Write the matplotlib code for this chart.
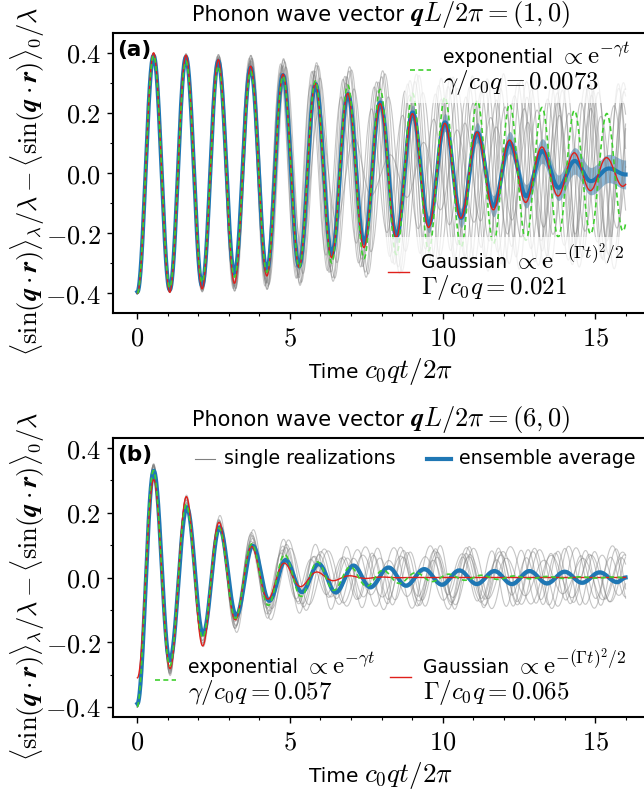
import numpy as np
import matplotlib
matplotlib.use("Agg")
import matplotlib.pyplot as plt
from matplotlib.ticker import MultipleLocator, FuncFormatter
from matplotlib.lines import Line2D
from matplotlib.offsetbox import (TextArea, HPacker, VPacker, DrawingArea,
                                  AnchoredOffsetbox, AnnotationBbox)

plt.rcParams["font.family"] = ["DejaVu Sans"]
plt.rcParams["mathtext.fontset"] = "cm"

azul = "#1f77b4"
rojo = "#e0201b"
verde = "#3fcf2f"
gris = "#808080"

fs_txt, fs_mat = 13.5, 18      # legend text / legend math
fs_tit, fs_tit_mat = 15, 19    # title and axis label
fs_tick, fs_ylab = 19, 19

# -----------------------------
# Data
# -----------------------------
# panel (a): extrema of the ensemble average
t_avg_a = [0.0, 0.53, 1.06, 1.59, 2.12, 2.65, 3.18, 3.71, 4.24, 4.77, 5.30,
           5.84, 6.37, 6.90, 7.43, 7.96, 8.49, 9.02, 9.55, 10.08, 10.61,
           11.14, 11.67, 12.20, 12.74, 13.27, 13.80, 14.33, 14.86, 15.45, 16.0]
y_avg_a = [-0.395, 0.39, -0.388, 0.385, -0.375, 0.372, -0.335, 0.35, -0.325,
           0.325, -0.31, 0.295, -0.271, 0.262, -0.232, 0.234, -0.21, 0.201,
           -0.171, 0.168, -0.149, 0.134, -0.11, 0.101, -0.077, 0.073, -0.049,
           0.04, -0.027, 0.015, -0.005]
# half width of the shaded band at t = 0, 1, ..., 16
band_a = [0.0, 0.002, 0.004, 0.006, 0.008, 0.01, 0.013, 0.016, 0.02, 0.025,
          0.03, 0.033, 0.036, 0.04, 0.043, 0.046, 0.048]

# panel (b): extrema of the ensemble average
t_avg_b = [0.0, 0.534, 1.06, 1.62, 2.15, 2.69, 3.24, 3.78, 4.32, 4.86, 5.39,
           5.94, 6.50, 7.08, 7.63, 8.23, 8.80, 9.40, 9.98, 10.55, 11.12,
           11.70, 12.27, 12.85, 13.42, 14.00, 14.57, 15.15, 15.72, 16.0]
y_avg_b = [-0.39, 0.33, -0.257, 0.217, -0.175, 0.155, -0.118, 0.098, -0.072,
           0.054, -0.045, 0.042, -0.046, 0.037, -0.030, 0.031, -0.025, 0.026,
           -0.022, 0.022, -0.02, 0.02, -0.02, 0.02, -0.018, 0.018, -0.016,
           0.016, -0.014, 0.0]
band_b = [0.0, 0.002, 0.003, 0.004, 0.005, 0.005, 0.006, 0.006, 0.006, 0.006,
          0.006, 0.006, 0.006, 0.006, 0.006, 0.006, 0.006]

# fit parameters (from the legends)
periodo_a = 1.061
periodo_b = 1.075
gamma_a, Gamma_a = 0.0073, 0.021
gamma_b, Gamma_b = 0.057, 0.065
amp_exp_a, amp_gau_a = 0.40, 0.40
amp_exp_b, amp_gau_b = 0.40, 0.31

# single realizations: amplitude and time shift at a few nodes
nodos_a = [0, 4, 8, 12, 16]
amp_real_a = [
    [0.40, 0.38, 0.33, 0.31, 0.30],
    [0.40, 0.37, 0.30, 0.28, 0.27],
    [0.40, 0.38, 0.25, 0.30, 0.32],
    [0.40, 0.36, 0.05, 0.20, 0.28],
    [0.40, 0.39, 0.32, 0.26, 0.22],
    [0.40, 0.38, 0.28, 0.24, 0.30],
    [0.40, 0.37, 0.30, 0.33, 0.25],
    [0.40, 0.36, 0.20, 0.15, 0.24],
    [0.40, 0.39, 0.34, 0.30, 0.28],
    [0.40, 0.37, 0.27, 0.22, 0.18],
]
shift_real_a = [
    [0, 0.03, 0.15, 0.35, 0.55],
    [0, -0.03, -0.12, -0.30, -0.50],
    [0, 0.05, 0.25, 0.50, 0.80],
    [0, -0.02, 0.30, 0.45, 0.60],
    [0, 0.01, 0.05, 0.15, 0.25],
    [0, -0.05, -0.20, -0.45, -0.70],
    [0, 0.02, -0.05, -0.20, -0.30],
    [0, -0.04, -0.30, -0.45, -0.55],
    [0, 0.00, 0.08, 0.25, 0.40],
    [0, -0.01, -0.08, -0.15, -0.20],
]

nodos_b = [0, 2, 4, 6, 8, 10, 12, 14, 16]
amp_real_b = [
    [0.40, 0.20, 0.12, 0.08, 0.09, 0.10, 0.08, 0.09, 0.10],
    [0.40, 0.19, 0.10, 0.06, 0.07, 0.05, 0.09, 0.07, 0.06],
    [0.40, 0.22, 0.14, 0.09, 0.06, 0.08, 0.10, 0.06, 0.08],
    [0.40, 0.18, 0.09, 0.05, 0.08, 0.09, 0.05, 0.08, 0.09],
    [0.40, 0.21, 0.11, 0.07, 0.05, 0.07, 0.08, 0.10, 0.05],
    [0.40, 0.20, 0.13, 0.10, 0.09, 0.06, 0.07, 0.09, 0.07],
    [0.40, 0.19, 0.10, 0.08, 0.10, 0.08, 0.06, 0.05, 0.08],
    [0.40, 0.21, 0.12, 0.06, 0.06, 0.10, 0.09, 0.08, 0.06],
]
shift_real_b = [
    [0, 0.00, 0.02, 0.10, 0.30, 0.50, 0.70, 0.90, 1.10],
    [0, 0.00, -0.03, -0.15, -0.35, -0.55, -0.80, -1.00, -1.20],
    [0, 0.01, 0.05, 0.20, 0.50, 0.70, 0.90, 1.30, 1.60],
    [0, -0.01, -0.05, -0.25, -0.40, -0.45, -0.60, -0.85, -1.00],
    [0, 0.00, 0.03, 0.05, 0.15, 0.35, 0.60, 0.70, 0.75],
    [0, -0.01, -0.02, -0.08, -0.20, -0.40, -0.45, -0.50, -0.70],
    [0, 0.01, 0.06, 0.30, 0.55, 0.60, 0.80, 1.05, 1.40],
    [0, 0.00, -0.04, -0.10, -0.12, -0.30, -0.55, -0.75, -0.80],
]

t = np.linspace(0, 16, 1601)


def curva_extremos(te, ye):
    # half-cosine segments joining consecutive extrema
    te = np.asarray(te)
    ye = np.asarray(ye)
    idx = np.clip(np.searchsorted(te, t, side="right") - 1, 0, len(te) - 2)
    s = (t - te[idx]) / (te[idx + 1] - te[idx])
    return ye[idx] + (ye[idx + 1] - ye[idx]) * (1 - np.cos(np.pi * s)) / 2


def realizacion(nodos, amp, shift, periodo):
    a = np.interp(t, nodos, amp)
    d = np.interp(t, nodos, shift)
    return -a * np.cos(2 * np.pi * (t - d) / periodo)


def texto_mixto(partes, sep=4):
    # sans text and larger CM math on one baseline
    cajas = [TextArea(s, textprops=dict(fontsize=f)) for s, f in partes]
    return HPacker(children=cajas, align="baseline", pad=0, sep=sep)


def entrada(color, ls, lw, lineas, hl=15, sep=9):
    da = DrawingArea(hl, 8, 0, 0)
    da.add_artist(Line2D([0, hl], [4, 4], color=color, ls=ls, lw=lw))
    txt = VPacker(children=[texto_mixto(p) for p in lineas], align="left",
                  pad=0, sep=0)
    return HPacker(children=[da, txt], align="center", pad=0, sep=sep)


def poner(ax, caja, loc, xy, marco=False):
    box = AnchoredOffsetbox(loc=loc, child=caja, pad=0.4 if marco else 0,
                            borderpad=0, frameon=marco, bbox_to_anchor=xy,
                            bbox_transform=ax.transAxes)
    if marco:
        box.patch.set_facecolor("white")
        box.patch.set_alpha(0.75)
        box.patch.set_edgecolor("none")
    ax.add_artist(box)


def fmt_y(v, pos):
    return "$%.1f$" % v


def fmt_x(v, pos):
    return "$%d$" % round(v)


# -----------------------------
# Figure
# -----------------------------
fig = plt.figure(figsize=(6.44, 7.95), dpi=100)
ax1 = fig.add_axes([113 / 644, 1 - 313 / 795, 537 / 644, 280 / 795])
ax2 = fig.add_axes([113 / 644, 1 - 717 / 795, 537 / 644, 279 / 795])

ylabel = (r"$\langle\sin(\boldsymbol{q}\cdot\boldsymbol{r})\rangle_\lambda/\lambda"
          r" - \langle\sin(\boldsymbol{q}\cdot\boldsymbol{r})\rangle_0/\lambda$")
discontinua = (0, (3, 2))

paneles = [
    (ax1, "(a)", "(1,0)", nodos_a, amp_real_a, shift_real_a, periodo_a,
     t_avg_a, y_avg_a, band_a, gamma_a, Gamma_a, amp_exp_a, amp_gau_a,
     "0.0073", "0.021", (-0.465, 0.465)),
    (ax2, "(b)", "(6,0)", nodos_b, amp_real_b, shift_real_b, periodo_b,
     t_avg_b, y_avg_b, band_b, gamma_b, Gamma_b, amp_exp_b, amp_gau_b,
     "0.057", "0.065", (-0.431, 0.431)),
]

for (ax, etiqueta, qvec, nodos, amps, shifts, periodo, te, ye, band,
     gam, Gam, a_exp, a_gau, txt_g, txt_G, ylim) in paneles:
    for amp, sh in zip(amps, shifts):
        ax.plot(t, realizacion(nodos, amp, sh, periodo),
                color=gris, lw=0.8, alpha=0.45)
    prom = curva_extremos(te, ye)
    bw = np.interp(t, np.arange(17), band)
    ax.fill_between(t, prom - bw, prom + bw, color=azul, alpha=0.5, lw=0)
    ax.plot(t, prom, color=azul, lw=3)
    fase = np.cos(2 * np.pi * t / periodo)
    ax.plot(t, -a_gau * np.exp(-(Gam * 2 * np.pi * t) ** 2 / 2) * fase,
            color=rojo, lw=1)
    ax.plot(t, -a_exp * np.exp(-gam * 2 * np.pi * t) * fase,
            color=verde, lw=1.2, ls=discontinua)

    ax.set_xlim(-0.8, 16.8)
    ax.set_ylim(*ylim)
    ax.xaxis.set_major_locator(MultipleLocator(5))
    ax.xaxis.set_minor_locator(MultipleLocator(1))
    ax.yaxis.set_major_locator(MultipleLocator(0.2))
    ax.yaxis.set_minor_locator(MultipleLocator(0.1))
    ax.xaxis.set_major_formatter(FuncFormatter(fmt_x))
    ax.yaxis.set_major_formatter(FuncFormatter(fmt_y))
    ax.tick_params(which="major", length=4, width=1, labelsize=fs_tick, pad=5)
    ax.tick_params(which="minor", length=2.5, width=0.8)
    for sp in ax.spines.values():
        sp.set_linewidth(1.5)

    titulo = texto_mixto([("Phonon wave vector", fs_tit),
                          (r"$\boldsymbol{q}L/2\pi = %s$" % qvec, fs_tit_mat)])
    ax.add_artist(AnnotationBbox(titulo, (0.5, 1.0), xycoords="axes fraction",
                                 xybox=(0, 2.5), boxcoords="offset points",
                                 box_alignment=(0.5, 0), frameon=False,
                                 annotation_clip=False, pad=0))
    xlab = texto_mixto([("Time", fs_tit - 0.5), (r"$c_0qt/2\pi$", 19.5)])
    ax.add_artist(AnnotationBbox(xlab, (0.5, 0.0), xycoords="axes fraction",
                                 xybox=(0, -31), boxcoords="offset points",
                                 box_alignment=(0.5, 1), frameon=False,
                                 annotation_clip=False, pad=0))
    ax.set_ylabel(ylabel, fontsize=fs_ylab)
    ax.yaxis.set_label_coords(-0.123, 0.47)
    ax.text(0.008, 0.975, etiqueta, transform=ax.transAxes, va="top",
            ha="left", fontweight="bold", fontsize=15.5)

    lab_exp = [[("exponential", fs_txt), (r"$\propto \mathrm{e}^{-\gamma t}$", fs_mat)],
               [(r"$\gamma/c_0q = %s$" % txt_g, fs_mat)]]
    lab_gau = [[("Gaussian", fs_txt), (r"$\propto \mathrm{e}^{-(\Gamma t)^2/2}$", fs_mat)],
               [(r"$\Gamma/c_0q = %s$" % txt_G, fs_mat)]]
    e_exp = entrada(verde, discontinua, 1.2, lab_exp)
    e_gau = entrada(rojo, "-", 1, lab_gau)

    if etiqueta == "(a)":
        poner(ax, e_exp, "upper left", (0.543, 0.9875), marco=True)
        poner(ax, e_gau, "lower left", (0.502, 0.019), marco=True)
    else:
        poner(ax, e_exp, "lower left", (0.078, 0.035))
        poner(ax, e_gau, "lower left", (0.516, 0.035))
        e_real = entrada(gris, "-", 0.8, [[("single realizations", 13.7)]],
                         hl=14, sep=7)
        e_avg = entrada(azul, "-", 3, [[("ensemble average", 13.7)]],
                        hl=17, sep=6)
        poner(ax, e_real, "upper left", (0.153, 0.96))
        poner(ax, e_avg, "upper left", (0.585, 0.96))

fig.savefig("out.png", dpi=100)
